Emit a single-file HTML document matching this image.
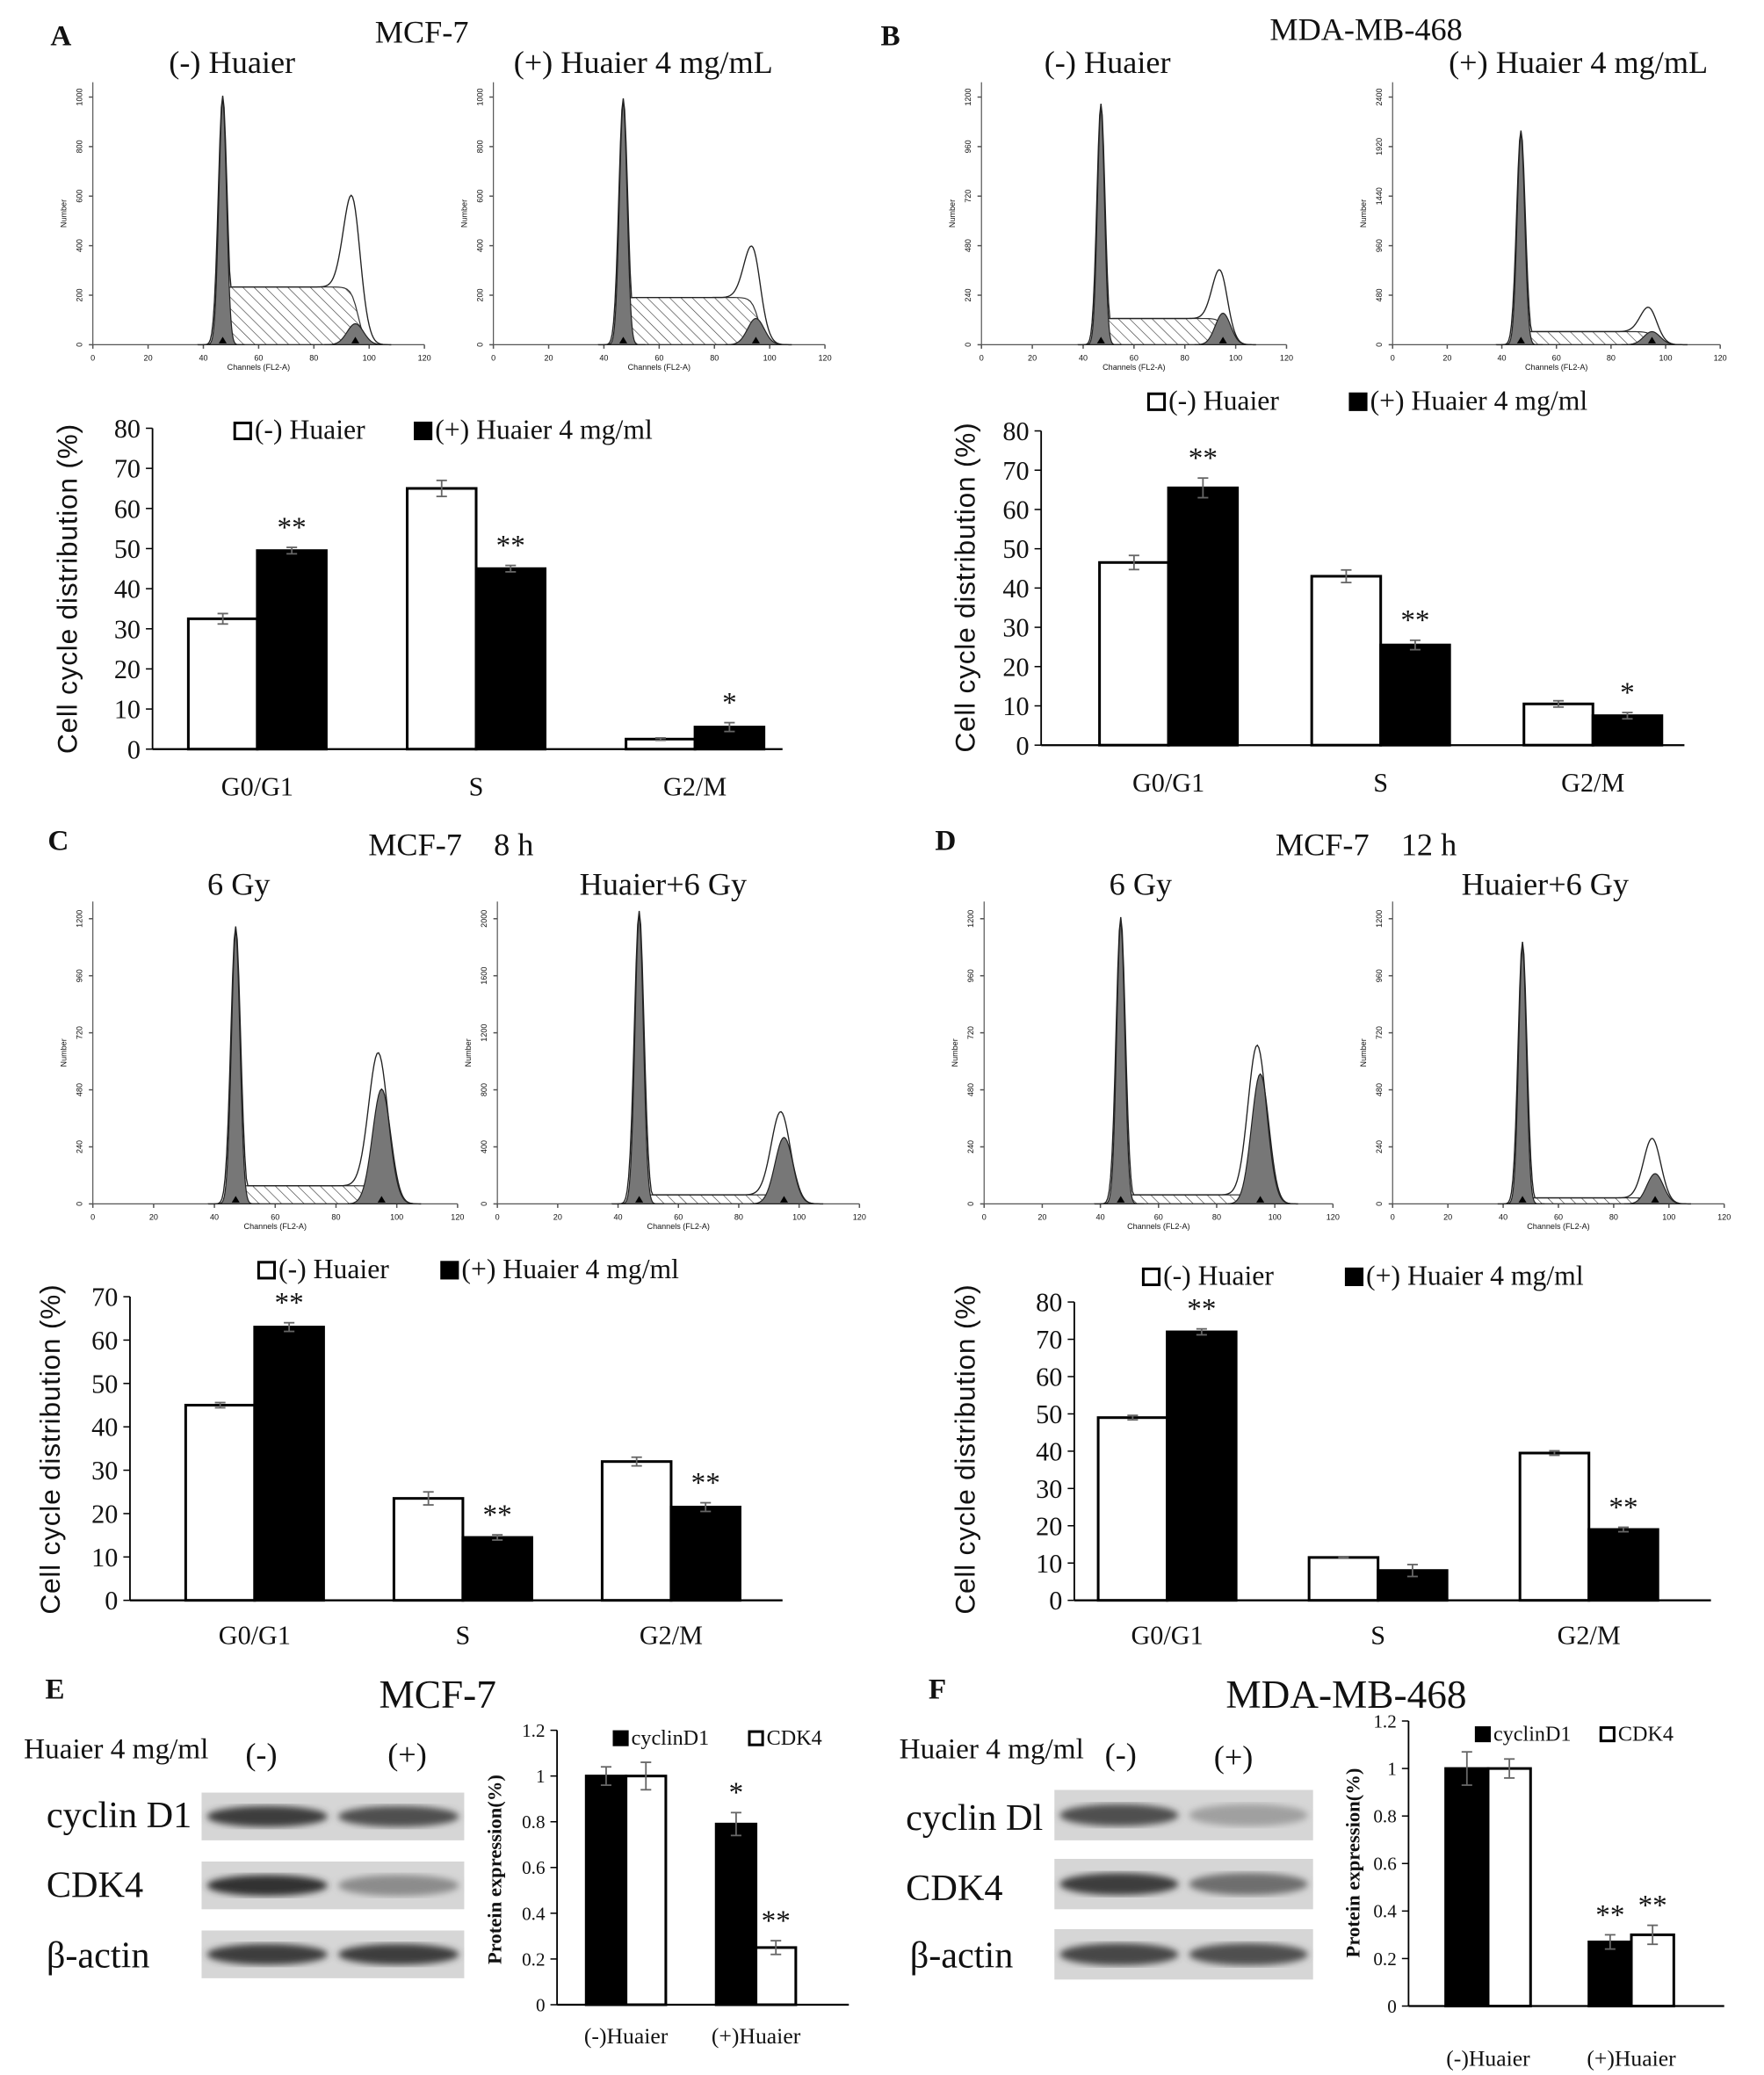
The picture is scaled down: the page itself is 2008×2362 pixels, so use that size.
<!DOCTYPE html>
<html><head><meta charset="utf-8"><style>
html,body{margin:0;padding:0;background:#fff}
svg{display:block}
text{font-family:"Liberation Serif",serif;fill:#111;white-space:pre}
</style></head><body>
<svg id="fig" xmlns="http://www.w3.org/2000/svg" width="2008" height="2362" viewBox="0 0 1330 1565" preserveAspectRatio="none">
<defs>
<pattern id="hatch" patternUnits="userSpaceOnUse" width="6" height="6" patternTransform="rotate(-45)"><line x1="0" y1="0" x2="0" y2="6" stroke="#333" stroke-width="0.8"/></pattern>
<filter id="blur2"><feGaussianBlur stdDeviation="2.5"/></filter>
</defs>
<g id="root"></g>
</svg>
<script>
// ---- Bar chart data ----
const cats = ["G0/G1","S","G2/M"];
const aMinus = [32.5,65,2.5], aPlus=[49.5,45,5.5], aErrM=[1.3,2,0.3], aErrP=[0.8,0.8,1.1], aStars=["**","**","*"];
const bMinus = [46.5,43,10.5], bPlus=[65.5,25.5,7.5], bErrM=[1.8,1.6,0.8], bErrP=[2.5,1.2,0.8], bStars=["**","**","*"];
const cMinus = [45,23.5,32], cPlus=[63,14.5,21.5], cErrM=[0.6,1.5,1], cErrP=[1,0.6,1], cStars=["**","**","**"];
const dMinus = [49,11.5,39.5], dPlus=[72,8,19], dErrM=[0.6,0.2,0.6], dErrP=[0.8,1.6,0.6], dStars=["**","","**"];
const pCats = ["(-)Huaier","(+)Huaier"];
const eCyclin=[1.0,0.79], eCdk4=[1.0,0.25], eErrC=[0.04,0.05], eErrK=[0.06,0.03], eStarsC=["","*"], eStarsK=["","**"];
const fCyclin=[1.0,0.27], fCdk4=[1.0,0.30], fErrC=[0.07,0.03], fErrK=[0.04,0.04], fStarsC=["","**"], fStarsK=["","**"];
const ticks80=[0,10,20,30,40,50,60,70,80], ticks70=[0,10,20,30,40,50,60,70];
const ticksP=[0,0.2,0.4,0.6,0.8,1,1.2];
// histogram: [G1 height, S height, G2 filled height, G2 outline height] (fraction of axis)
const histA1=[0.93,0.22,0.08,0.38], histA2=[0.92,0.18,0.1,0.22];
const histB1=[0.9,0.1,0.12,0.2], histB2=[0.8,0.05,0.05,0.1];
const histC1=[0.9,0.06,0.38,0.45], histC2=[0.95,0.03,0.22,0.28];
const histD1=[0.93,0.03,0.43,0.5], histD2=[0.85,0.02,0.1,0.2];

const NS="http://www.w3.org/2000/svg";
const root=document.getElementById('root');
function mk(tag,attrs,parent,txt){const e=document.createElementNS(NS,tag);for(const k in attrs)e.setAttribute(k,attrs[k]);if(txt!==undefined)e.textContent=txt;(parent||root).appendChild(e);return e;}
function label(x,y,t,size,opts){const e=mk('text',Object.assign({x:x,y:y,'font-size':size},opts||{}),root,t);return e;}

function barChart(id,cfg){
  const g=mk('g',{});
  
  
  const ys=v=>cfg.y0-(v/cfg.max)*(cfg.y0-cfg.yTop);
  mk('line',{x1:cfg.ax,y1:cfg.yTop,x2:cfg.ax,y2:cfg.y0,stroke:'#000','stroke-width':1.2},g);
  mk('line',{x1:cfg.ax,y1:cfg.y0,x2:cfg.xEnd,y2:cfg.y0,stroke:'#000','stroke-width':1.5},g);
  cfg.ticks.forEach(t=>{const y=ys(t);
    mk('line',{x1:cfg.ax-5,y1:y,x2:cfg.ax,y2:y,stroke:'#000'},g);
    const tl=mk('text',{x:cfg.ax-9,y:y+cfg.tfs*0.35,'font-size':cfg.tfs,'text-anchor':'end'},g,cfg.fmt?cfg.fmt(t):t);
    
    
  });
  cfg.cats.forEach((c,i)=>{
    const cx=cfg.c0+i*cfg.step;
    const series=[[cfg.s1,cfg.e1,cfg.st1,cfg.fill1],[cfg.s2,cfg.e2,cfg.st2,cfg.fill2]];
    series.forEach((s,j)=>{
      const x=cx+(j-1)*cfg.bw, v=s[0][i], y=ys(v);
      const r=mk('rect',{x:x,y:y,width:cfg.bw,height:cfg.y0-y,fill:s[3],stroke:'#000','stroke-width':2},g);
      
      
      const ey1=ys(v+s[1][i]), ey2=ys(v-s[1][i]), ex=x+cfg.bw/2;
      mk('line',{x1:ex,y1:ey1,x2:ex,y2:ey2,stroke:'#666','stroke-width':1.2},g);
      mk('line',{x1:ex-4,y1:ey1,x2:ex+4,y2:ey1,stroke:'#666','stroke-width':1.2},g);
      mk('line',{x1:ex-4,y1:ey2,x2:ex+4,y2:ey2,stroke:'#666','stroke-width':1.2},g);
      if(s[2]&&s[2][i]){const st=mk('text',{x:ex,y:ey1-8,'font-size':22,'text-anchor':'middle'},g,s[2][i]);
        
        }
    });
    const cl=mk('text',{x:cx,y:cfg.labY,'font-size':cfg.cfs,'text-anchor':'middle'},g,c);
    
    
  });
  const yt=mk('text',{x:0,y:0,'font-size':cfg.yfs,'text-anchor':'middle',transform:`translate(${cfg.ylx},${cfg.yly}) rotate(-90)`,style:cfg.ystyle||''},g,cfg.ylabel);
  
  
  cfg.leg.forEach(L=>{
    mk('rect',{x:L[0],y:L[1]-cfg.lsz,width:cfg.lsz,height:cfg.lsz,fill:L[2],stroke:'#000','stroke-width':2},g);
    const lt=mk('text',{x:L[0]+cfg.lsz+3,y:L[1],'font-size':cfg.lfs},g,L[3]);
    
    
  });
}
const CELL="Cell cycle distribution (%)";
const ysty="font-family:'Liberation Sans',sans-serif;letter-spacing:0.5px";
barChart('bar-chart-a',{ax:115,yTop:323,y0:565,xEnd:590,max:80,ticks:ticks80,tfs:20,cats:cats,c0:194,step:165,bw:52,
 s1:aMinus,e1:aErrM,st1:null,fill1:'#fff',s2:aPlus,e2:aErrP,st2:aStars,fill2:'#000',labY:600,cfs:20,
 ylabel:CELL,ylx:58,yly:444,yfs:21,ystyle:ysty,leg:[[177,331,'#fff','(-) Huaier'],[313,331,'#000','(+) Huaier 4 mg/ml']],lsz:12,lfs:21});
barChart('bar-chart-b',{ax:785,yTop:325,y0:562,xEnd:1270,max:80,ticks:ticks80,tfs:20,cats:cats,c0:881,step:160,bw:52,
 s1:bMinus,e1:bErrM,st1:null,fill1:'#fff',s2:bPlus,e2:bErrP,st2:bStars,fill2:'#000',labY:597,cfs:20,
 ylabel:CELL,ylx:735,yly:443,yfs:21,ystyle:ysty,leg:[[866,309,'#fff','(-) Huaier'],[1018,309,'#000','(+) Huaier 4 mg/ml']],lsz:12,lfs:21});
barChart('bar-chart-c',{ax:98,yTop:978,y0:1207,xEnd:590,max:70,ticks:ticks70,tfs:20,cats:cats,c0:192,step:157,bw:52,
 s1:cMinus,e1:cErrM,st1:null,fill1:'#fff',s2:cPlus,e2:cErrP,st2:cStars,fill2:'#000',labY:1240,cfs:20,
 ylabel:CELL,ylx:45,yly:1093,yfs:21,ystyle:ysty,leg:[[195,964,'#fff','(-) Huaier'],[333,964,'#000','(+) Huaier 4 mg/ml']],lsz:12,lfs:21});
barChart('bar-chart-d',{ax:810,yTop:982,y0:1207,xEnd:1290,max:80,ticks:ticks80,tfs:20,cats:cats,c0:880,step:159,bw:52,
 s1:dMinus,e1:dErrM,st1:null,fill1:'#fff',s2:dPlus,e2:dErrP,st2:dStars,fill2:'#000',labY:1240,cfs:20,
 ylabel:CELL,ylx:735,yly:1093,yfs:21,ystyle:ysty,leg:[[862,969,'#fff','(-) Huaier'],[1015,969,'#000','(+) Huaier 4 mg/ml']],lsz:12,lfs:21});
const fmtP=t=>(t===0?'0':String(t));
barChart('protein-chart-e',{ax:420,yTop:1305,y0:1512,xEnd:640,max:1.2,ticks:ticksP,tfs:14,fmt:fmtP,cats:pCats,c0:472,step:98,bw:30,
 s1:eCyclin,e1:eErrC,st1:eStarsC,fill1:'#000',s2:eCdk4,e2:eErrK,st2:eStarsK,fill2:'#fff',labY:1541,cfs:17,
 ylabel:"Protein expression(%)",ylx:378,yly:1410,yfs:15,ystyle:"font-weight:bold",leg:[[463,1316,'#000','cyclinD1'],[565,1316,'#fff','CDK4']],lsz:10,lfs:16});
barChart('protein-chart-f',{ax:1062,yTop:1298,y0:1513,xEnd:1300,max:1.2,ticks:ticksP,tfs:14,fmt:fmtP,cats:pCats,c0:1122,step:108,bw:32,
 s1:fCyclin,e1:fErrC,st1:fStarsC,fill1:'#000',s2:fCdk4,e2:fErrK,st2:fStarsK,fill2:'#fff',labY:1558,cfs:17,
 ylabel:"Protein expression(%)",ylx:1025,yly:1405,yfs:15,ystyle:"font-weight:bold",leg:[[1113,1313,'#000','cyclinD1'],[1207,1313,'#fff','CDK4']],lsz:10,lfs:16});

// ---- histograms ----
function hist(id,h,x0,x1,yt,yb,ymax){
  const g=mk('g',{});
  
  
  const X=c=>x0+(c/120)*(x1-x0), H=yb-yt, Y=f=>yb-f*H;
  const gs=(c,m,s)=>Math.exp(-0.5*((c-m)/s)**2);
  mk('line',{x1:x0,y1:yt,x2:x0,y2:yb,stroke:'#555','stroke-width':0.8},g);
  mk('line',{x1:x0,y1:yb,x2:x1,y2:yb,stroke:'#555','stroke-width':0.8},g);
  for(let c=0;c<=120;c+=20){mk('line',{x1:X(c),y1:yb,x2:X(c),y2:yb+3,stroke:'#555'},g);
    mk('text',{x:X(c),y:yb+12,'font-size':6,'text-anchor':'middle',style:"font-family:'Liberation Sans',sans-serif"},g,c);}
  for(let i=0;i<=5;i++){const y=yb-i*H/5.3;mk('line',{x1:x0-3,y1:y,x2:x0,y2:y,stroke:'#555'},g);
    mk('text',{x:0,y:0,'font-size':6,'text-anchor':'middle',transform:`translate(${x0-8},${y}) rotate(-90)`,style:"font-family:'Liberation Sans',sans-serif"},g,Math.round(i*ymax/5));}
  mk('text',{x:0,y:0,'font-size':6,'text-anchor':'middle',transform:`translate(${x0-20},${yt+H/2}) rotate(-90)`,style:"font-family:'Liberation Sans',sans-serif"},g,'Number');
  mk('text',{x:X(60),y:yb+19,'font-size':6,'text-anchor':'middle',style:"font-family:'Liberation Sans',sans-serif"},g,'Channels (FL2-A)');
  let sp=`M${X(44)},${yb}`;
  for(let c=44;c<=100;c+=1){const f=h[1]*(1/(1+Math.exp(-(c-46)*1.5)))*(1/(1+Math.exp((c-96)*0.8)));sp+=` L${X(c)},${Y(f)}`;}
  sp+=` L${X(100)},${yb} Z`;
  mk('path',{d:sp,fill:'url(#hatch)',stroke:'#333','stroke-width':0.8},g);
  let p1=`M${X(40)},${yb}`;for(let c=40;c<=55;c+=0.25)p1+=` L${X(c)},${Y(h[0]*gs(c,47,1.4))}`;p1+=` L${X(55)},${yb} Z`;
  mk('path',{d:p1,fill:'#777',stroke:'#222','stroke-width':0.8},g);
  let p2=`M${X(84)},${yb}`;for(let c=84;c<=106;c+=0.5)p2+=` L${X(c)},${Y(h[2]*gs(c,95,3))}`;p2+=` L${X(106)},${yb} Z`;
  mk('path',{d:p2,fill:'#777',stroke:'#222','stroke-width':0.8},g);
  let o=`M${X(38)},${yb}`;
  for(let c=38;c<=108;c+=0.5){const s=h[1]*(1/(1+Math.exp(-(c-46)*1.5)))*(1/(1+Math.exp((c-96)*0.8)));
    const f=Math.max(h[0]*1.02*gs(c,47,1.6),s+h[3]*gs(c,94,3.2),s);o+=` L${X(c)},${Y(f)}`;}
  mk('path',{d:o,fill:'none',stroke:'#222','stroke-width':0.9},g);
  [47,95].forEach(c=>mk('path',{d:`M${X(c)-3},${yb-1} L${X(c)+3},${yb-1} L${X(c)},${yb-6} Z`,fill:'#000'},g));
}
hist('histogram-a-minus',histA1,70,320,62,260,1000);
hist('histogram-a-plus',histA2,372,622,62,260,1000);
hist('histogram-b-minus',histB1,740,970,62,260,1200);
hist('histogram-b-plus',histB2,1050,1297,62,260,2400);
hist('histogram-c-minus',histC1,70,345,680,908,1200);
hist('histogram-c-plus',histC2,375,648,680,908,2000);
hist('histogram-d-minus',histD1,742,1005,680,908,1200);
hist('histogram-d-plus',histD2,1050,1300,680,908,1200);

// ---- titles ----
function T(name,x,y,t,size,anchor,bold){const e=label(x,y,t,size,{'text-anchor':anchor||'start','font-weight':bold?'bold':'normal'});
 
 }
T('panel-label-a',38,34,'A',22,'start',1);T('title-a',318,32,'MCF-7',24,'middle');
T('subtitle-a-minus',175,55,'(-) Huaier',24,'middle');T('subtitle-a-plus',485,55,'(+) Huaier 4 mg/mL',24,'middle');
T('panel-label-b',664,34,'B',22,'start',1);T('title-b',1030,30,'MDA-MB-468',24,'middle');
T('subtitle-b-minus',835,55,'(-) Huaier',24,'middle');T('subtitle-b-plus',1190,55,'(+) Huaier 4 mg/mL',24,'middle');
T('panel-label-c',36,641,'C',22,'start',1);T('title-c',340,645,'MCF-7    8 h',24,'middle');
T('subtitle-c-minus',180,675,'6 Gy',24,'middle');T('subtitle-c-plus',500,675,'Huaier+6 Gy',24,'middle');
T('panel-label-d',705,641,'D',22,'start',1);T('title-d',1030,645,'MCF-7    12 h',24,'middle');
T('subtitle-d-minus',860,675,'6 Gy',24,'middle');T('subtitle-d-plus',1165,675,'Huaier+6 Gy',24,'middle');
T('panel-label-e',34,1281,'E',22,'start',1);T('title-e',330,1288,'MCF-7',30,'middle');
T('panel-label-f',700,1281,'F',22,'start',1);T('title-f',1015,1288,'MDA-MB-468',30,'middle');
T('treatment-label-e',18,1326,'Huaier 4 mg/ml',22);T('lane-e-minus',197,1331,'(-)',24,'middle');T('lane-e-plus',307,1331,'(+)',24,'middle');
T('treatment-label-f',678,1326,'Huaier 4 mg/ml',22);T('lane-f-minus',845,1331,'(-)',24,'middle');T('lane-f-plus',930,1333,'(+)',24,'middle');
T('row-label-e-cyclin',35,1378,'cyclin D1',28);T('row-label-e-cdk4',35,1431,'CDK4',28);T('row-label-e-actin',35,1484,'β-actin',28);
T('row-label-f-cyclin',683,1380,'cyclin Dl',28);T('row-label-f-cdk4',683,1433,'CDK4',28);T('row-label-f-actin',686,1484,'β-actin',28);

// ---- blots ----
const blotE=[[0.85,0.75],[0.9,0.45],[0.85,0.85]], blotF=[[0.75,0.35],[0.85,0.6],[0.8,0.75]];
function blot(id,rows,x0,x1,ys,hs){
 rows.forEach((r,i)=>{const g=mk('g',{});
  
  
  mk('rect',{x:x0,y:ys[i],width:x1-x0,height:hs,fill:'#d6d6d6'},g);
  const w=(x1-x0)/2;
  r.forEach((v,j)=>{const gr=Math.round(230-v*200);
   mk('ellipse',{cx:x0+w*j+w/2,cy:ys[i]+hs/2,rx:w*0.46,ry:hs*0.22,fill:`rgb(${gr},${gr},${gr})`,filter:'url(#blur2)'},g);});
 });
}
blot('blot-e',blotE,152,350,[1352,1404,1456],36);
blot('blot-f',blotF,795,990,[1350,1402,1455],38);
</script>
</body></html>
